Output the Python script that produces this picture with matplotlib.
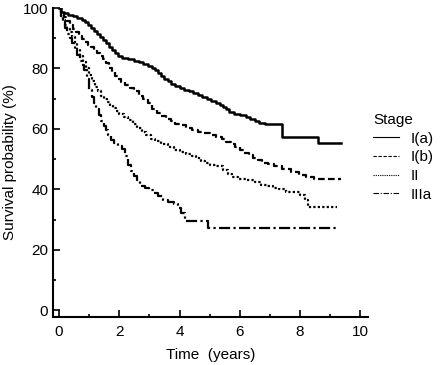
import numpy as np
import matplotlib
matplotlib.use("Agg")
import matplotlib.pyplot as plt
from matplotlib.ticker import MultipleLocator

plt.rcParams['font.family'] = ['Liberation Sans', 'DejaVu Sans']

# Krzywe Kaplana-Meiera (czas w latach, przeżycie w %)
t_ia = [0, 0.05, 0.15, 0.3, 0.45, 0.6, 0.75, 0.85, 0.95, 1.05, 1.15, 1.25, 1.35, 1.45, 1.55,
        1.65, 1.75, 1.85, 1.95, 2.1, 2.3, 2.5, 2.65, 2.8, 2.95, 3.1, 3.2, 3.3, 3.4, 3.5, 3.6,
        3.7, 3.85, 4.0, 4.15, 4.3, 4.45, 4.6, 4.75, 4.9, 5.05, 5.2, 5.35, 5.45, 5.55, 5.65,
        5.8, 6.0, 6.2, 6.35, 6.5, 6.65, 6.85, 7.4, 8.6, 9.37]
s_ia = [100, 98.6, 98.2, 97.6, 97.2, 96.6, 96, 95.3, 94.5, 93.5, 92.5, 91.5, 90.5, 89.5, 88.3,
        87.2, 86, 85, 84.2, 83.5, 83, 82.5, 82, 81.5, 80.8, 80.2, 79.5, 78.5, 77.5, 76.5, 75.8,
        75, 74.2, 73.6, 73, 72.5, 71.8, 71.2, 70.5, 69.9, 69.3, 68.7, 68, 67.2, 66.5, 65.5,
        65, 64.6, 64.1, 63.3, 62.5, 61.9, 61.5, 57.3, 55.2, 55.2]

t_ib = [0, 0.05, 0.15, 0.25, 0.35, 0.45, 0.55, 0.65, 0.75, 0.85, 0.95, 1.05, 1.15, 1.25, 1.35,
        1.45, 1.55, 1.65, 1.75, 1.85, 1.95, 2.05, 2.2, 2.35, 2.5, 2.65, 2.8, 2.95, 3.1, 3.25,
        3.4, 3.55, 3.7, 3.85, 4.0, 4.2, 4.4, 4.6, 4.8, 5.0, 5.2, 5.4, 5.55, 5.7, 5.85, 6.0,
        6.15, 6.3, 6.45, 6.6, 6.75, 6.95, 7.15, 7.4, 7.7, 7.95, 8.2, 8.45, 9.37]
s_ib = [100, 98, 97, 95.8, 94.5, 93.2, 92, 90.8, 89.6, 88.6, 87.8, 87, 86.2, 85.2, 84.2,
        83, 81.8, 80.3, 78.8, 77.6, 76.5, 75.4, 74.5, 73.5, 72.5, 71, 69.8, 68.5, 66.6, 65.4,
        64.3, 63.3, 62.5, 61.8, 61.2, 60.4, 59.7, 59.1, 58.6, 58, 57.4, 56.6, 55.8, 55, 54.1, 53.2,
        52.2, 51.3, 50.4, 49.6, 48.9, 48.4, 47.8, 46.6, 45.6, 44.9, 44.2, 43.3, 43.3]

t_ii = [0, 0.05, 0.12, 0.2, 0.28, 0.36, 0.44, 0.52, 0.6, 0.7, 0.8, 0.9, 1.0, 1.1, 1.2, 1.3,
        1.4, 1.5, 1.6, 1.7, 1.8, 1.9, 2.0, 2.15, 2.3, 2.45, 2.6, 2.75, 2.9, 3.05, 3.2, 3.4,
        3.6, 3.8, 4.0, 4.2, 4.4, 4.55, 4.7, 4.85, 5.0, 5.2, 5.45, 5.6, 5.75, 5.95, 6.2, 6.5,
        6.7, 6.9, 7.1, 7.3, 7.55, 8.0, 8.15, 8.25, 9.24]
s_ii = [100, 97.5, 96, 94.5, 93.2, 92, 90.5, 88.5, 86.5, 84, 82, 80, 78, 76, 74, 72.5,
        71, 70, 69, 68, 67, 66, 65, 64, 63, 61.5, 60.2, 59, 58, 56.8, 56, 55,
        54, 53.2, 52.3, 51.8, 51.2, 50.4, 49.5, 48.8, 48.2, 47.6, 46.5, 45.2, 44.2, 43.6, 43, 42.3,
        41.6, 41, 40.5, 40, 39.1, 38.3, 36.5, 34.3, 34.3]

t_iiia = [0, 0.05, 0.12, 0.2, 0.28, 0.36, 0.44, 0.52, 0.6, 0.68, 0.76, 0.84, 0.92, 1.0, 1.08,
          1.16, 1.24, 1.32, 1.4, 1.48, 1.56, 1.64, 1.72, 1.82, 1.95, 2.1, 2.2, 2.3, 2.4, 2.5,
          2.6, 2.7, 2.85, 3.0, 3.15, 3.3, 3.45, 3.6, 3.8, 3.95, 4.05, 4.17, 4.94, 9.24]
s_iiia = [100, 97.5, 95.5, 93.5, 91.5, 90, 88.5, 86.5, 84.5, 82.5, 81, 79.5, 76.5, 73, 70.5,
          68.5, 66.5, 64.5, 62.5, 61, 59.5, 58, 56.5, 55.5, 54.5, 53.5, 51, 48, 46, 44.5,
          43, 41.2, 40.5, 39.7, 38.7, 37.8, 36.6, 36, 35.3, 34, 32.3, 29.4, 27.4, 27.4]

stages = ["I(a)", "I(b)", "II", "IIIa"]

fig = plt.figure(figsize=(4.4, 3.65), dpi=100)
ax = fig.add_axes([0.1205, 0.1315, 0.7155, 0.8465])

ax.step(t_ia, s_ia, where='post', color='black', lw=1.8, label=stages[0])
ax.step(t_ib, s_ib, where='post', color='black', lw=1.6, ls=(0, (3, 1.5)), label=stages[1])
ax.step(t_ii, s_ii, where='post', color='black', lw=1.6, ls=(0, (1, 1)), label=stages[2])
ax.step(t_iiia, s_iiia, where='post', color='black', lw=1.6, ls=(0, (5, 1.5, 1, 1.5)), label=stages[3])

ax.set_xlim(-0.2, 10.25)
ax.set_ylim(-2.2, 100)
ax.xaxis.set_major_locator(MultipleLocator(2))
ax.xaxis.set_minor_locator(MultipleLocator(1))
ax.yaxis.set_major_locator(MultipleLocator(20))
ax.yaxis.set_minor_locator(MultipleLocator(10))
ax.tick_params(which='both', direction='in', labelsize=11, width=1.2)
ax.tick_params(which='major', length=5)
ax.tick_params(which='minor', length=2.5)
ax.tick_params(axis='x', pad=6)

for side in ['top', 'right']:
    ax.spines[side].set_visible(False)
for side in ['left', 'bottom']:
    ax.spines[side].set_linewidth(1.5)

ax.set_xlabel("Time  (years)", fontsize=11, labelpad=6)
ax.set_ylabel("Survival probability (%)", fontsize=11, labelpad=4)

leg = fig.legend(loc='upper left', bbox_to_anchor=(0.828, 0.715), frameon=False,
                 title="Stage", fontsize=11, title_fontsize=11, handlelength=1.7,
                 handletextpad=0.7, labelspacing=0.3, alignment='left',
                 borderaxespad=0.2)
for h in leg.get_lines():
    h.set_linewidth(0.8)

fig.savefig("out.png", dpi=100)
